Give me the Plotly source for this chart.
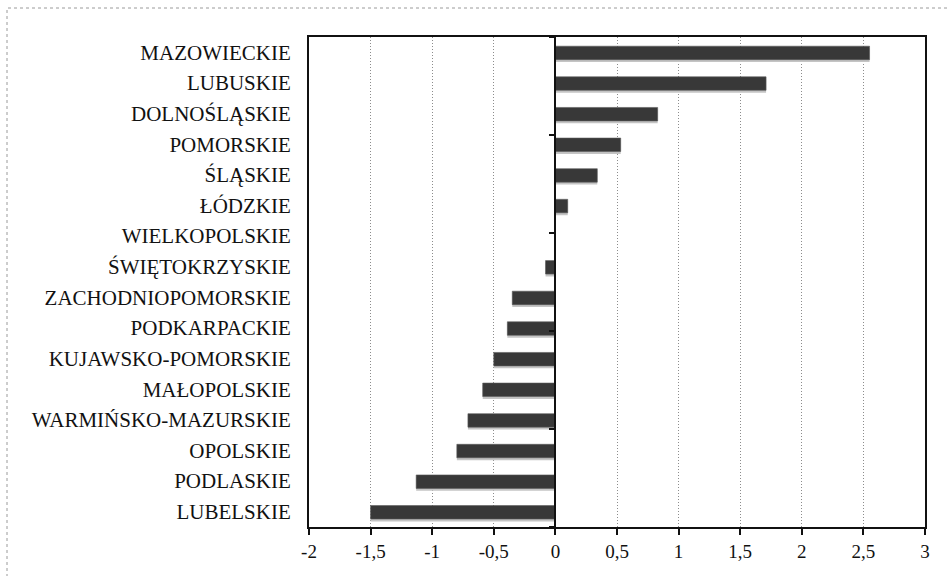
import plotly.graph_objects as go

regions = ["MAZOWIECKIE", "LUBUSKIE", "DOLNOŚLĄSKIE", "POMORSKIE", "ŚLĄSKIE", "ŁÓDZKIE",
           "WIELKOPOLSKIE", "ŚWIĘTOKRZYSKIE", "ZACHODNIOPOMORSKIE", "PODKARPACKIE",
           "KUJAWSKO-POMORSKIE", "MAŁOPOLSKIE", "WARMIŃSKO-MAZURSKIE", "OPOLSKIE",
           "PODLASKIE", "LUBELSKIE"]
values = [2.55, 1.71, 0.83, 0.53, 0.34, 0.10, 0.0, -0.08, -0.35, -0.39,
          -0.50, -0.59, -0.71, -0.80, -1.13, -1.50]
x_ticks = [-2, -1.5, -1, -0.5, 0, 0.5, 1, 1.5, 2, 2.5, 3]
x_tick_labels = ["-2", "-1,5", "-1", "-0,5", "0", "0,5", "1", "1,5", "2", "2,5", "3"]

W, H = 950, 576
ml, mr, mt, mb = 309, 25, 37, 49
x_min, x_max = -2, 3
serif = "Liberation Serif, Times New Roman, serif"

fig = go.Figure()
# shadow (slightly below)
fig.add_trace(go.Bar(y=regions, x=values, orientation="h", width=0.46, offset=-0.32,
                     marker=dict(color="#c4c4c4", line=dict(width=0)),
                     hoverinfo="skip", showlegend=False))
fig.add_trace(go.Bar(y=regions, x=values, orientation="h", width=0.44, offset=-0.24,
                     marker=dict(color="#383838", line=dict(color="#5a5a5a", width=0.6)),
                     showlegend=False))
# invisible trace for zero-line axis
fig.add_trace(go.Scatter(x=[None], y=[None], yaxis="y2", showlegend=False))

zero_pos = (0 - x_min) / (x_max - x_min)

fig.update_layout(
    width=W, height=H,
    margin=dict(l=ml, r=mr, t=mt, b=mb),
    paper_bgcolor="white", plot_bgcolor="white",
    barmode="overlay",
    font=dict(family=serif, color="#111", size=18),
    xaxis=dict(range=[x_min, x_max], tickvals=x_ticks, ticktext=x_tick_labels,
               showgrid=True, gridcolor="#8c8c8c", griddash="1px,2px", gridwidth=1,
               zeroline=False, showline=True, linecolor="#111", linewidth=2, mirror=True,
               ticks="outside", ticklen=6, tickcolor="#111", tickwidth=1.5,
               tickfont=dict(family=serif, size=19), fixedrange=True),
    yaxis=dict(categoryorder="array", categoryarray=regions[::-1], autorange=False,
               range=[-0.5, len(regions) - 0.5],
               showgrid=False, zeroline=False, showline=True, linecolor="#111", linewidth=2,
               mirror=True, ticks="", ticklabelstandoff=12,
               tickfont=dict(family=serif, size=21)),
    yaxis2=dict(overlaying="y", matches="y", anchor="free", position=zero_pos,
                categoryorder="array", categoryarray=regions[::-1],
                tickmode="linear", tick0=0, dtick=1,
                showticklabels=False, showgrid=False, zeroline=False,
                showline=True, linecolor="#111", linewidth=2,
                ticks="outside", ticklen=5, tickcolor="#111", tickwidth=1.5,
                tickson="boundaries"),
    shapes=[dict(type="rect", xref="paper", yref="paper",
                 x0=-(ml - 7) / (W - ml - mr), x1=(W + 10 - ml) / (W - ml - mr),
                 y0=-(mb + 20) / (H - mt - mb), y1=1 + (mt - 8) / (H - mt - mb),
                 line=dict(color="#9a9a9a", width=1, dash="dot"), layer="below")],
)

fig.write_html("out.html")
